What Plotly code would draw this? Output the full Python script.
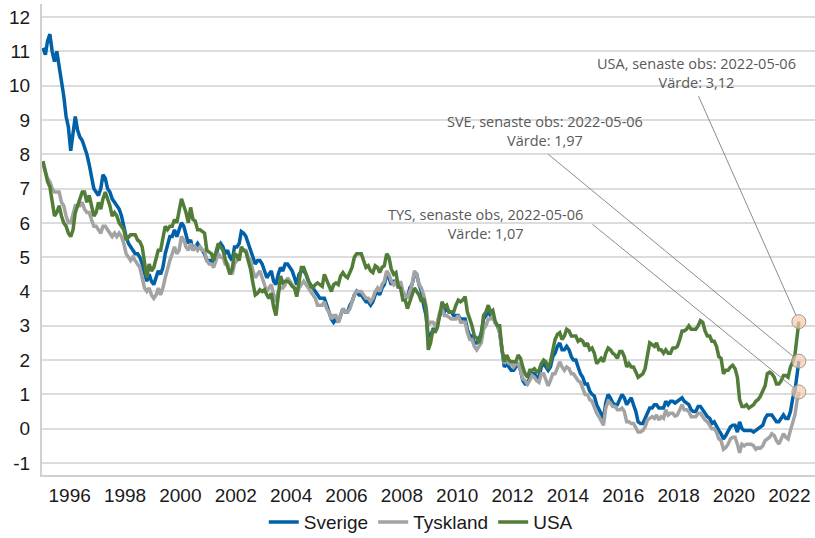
import pandas as pd
import plotly.graph_objects as go

# ---- data: 10-year government bond yields, monthly readings (mid-month) from Jan 1995 to Apr 2022,
# ---- followed by the latest observation
start_month = "1995-01-01"
last_obs = "2022-05-06"

sverige = [
    11.1, 10.9, 11.3, 11.5, 11.0, 10.7, 11.0, 10.6, 10.2, 9.7, 9.1, 8.8,
    8.1, 8.6, 9.1, 8.7, 8.5, 8.4, 8.2, 8.0, 7.7, 7.4, 7.0, 6.9,
    6.8, 7.0, 7.4, 7.3, 7.0, 6.9, 6.7, 6.6, 6.5, 6.4, 6.2, 5.9,
    5.6, 5.4, 5.3, 5.2, 5.1, 5.1, 5.0, 4.8, 4.5, 4.3, 4.5, 4.3,
    4.2, 4.4, 4.6, 4.5, 4.7, 5.1, 5.4, 5.6, 5.6, 5.8, 5.6, 5.8,
    6.0, 5.9, 5.6, 5.4, 5.5, 5.2, 5.3, 5.4, 5.3, 5.2, 5.1, 4.9,
    4.9, 4.9, 4.8, 5.1, 5.3, 5.4, 5.3, 5.1, 5.2, 5.0, 4.9, 5.3,
    5.3, 5.4, 5.75, 5.7, 5.6, 5.4, 5.2, 5.0, 4.8, 4.9, 4.9, 4.8,
    4.6, 4.4, 4.5, 4.6, 4.3, 4.2, 4.5, 4.7, 4.6, 4.8, 4.8, 4.7,
    4.6, 4.4, 4.2, 4.5, 4.6, 4.6, 4.5, 4.3, 4.2, 4.1, 4.0, 3.9,
    3.8, 3.8, 3.8, 3.6, 3.4, 3.2, 3.1, 3.2, 3.1, 3.3, 3.5, 3.4,
    3.4, 3.6, 3.7, 3.9, 4.0, 3.9, 3.9, 3.8, 3.7, 3.7, 3.6, 3.7,
    3.9, 4.0, 3.9, 4.1, 4.2, 4.5, 4.4, 4.2, 4.3, 4.3, 4.1, 4.2,
    3.9, 3.9, 3.8, 4.1, 4.2, 4.5, 4.5, 4.2, 4.0, 3.6, 3.3, 2.7,
    2.7, 2.9, 2.9, 3.1, 3.3, 3.5, 3.4, 3.5, 3.4, 3.4, 3.3, 3.3,
    3.3, 3.2, 3.2, 3.2, 2.9, 2.7, 2.7, 2.5, 2.5, 2.6, 2.8, 3.2,
    3.3, 3.4, 3.3, 3.3, 3.1, 3.0, 2.8, 2.3, 1.8, 1.9, 1.8, 1.7,
    1.7, 1.8, 1.9, 1.7, 1.4, 1.3, 1.3, 1.5, 1.6, 1.6, 1.5, 1.5,
    1.8, 1.9, 1.8, 1.7, 1.8, 2.1, 2.2, 2.4, 2.5, 2.3, 2.3, 2.4,
    2.3, 2.1, 2.0, 2.0, 1.8, 1.6, 1.5, 1.3, 1.3, 1.1, 1.0, 0.95,
    0.7, 0.55, 0.4, 0.3, 0.75, 1.0, 0.9, 0.75, 0.7, 0.7, 0.85, 1.0,
    0.9, 0.7, 0.8, 0.9, 0.7, 0.5, 0.2, 0.15, 0.15, 0.3, 0.5, 0.6,
    0.6, 0.7, 0.7, 0.6, 0.6, 0.6, 0.8, 0.7, 0.8, 0.8, 0.75, 0.8,
    0.85, 0.9, 0.8, 0.75, 0.7, 0.55, 0.5, 0.5, 0.65, 0.65, 0.55, 0.45,
    0.35, 0.3, 0.15, 0.2, 0.05, -0.05, -0.15, -0.3, -0.2, -0.05, 0.05, 0.1,
    0.1, -0.1, 0.2, 0.0, -0.05, -0.05, -0.05, -0.05, -0.1, -0.05, 0.0, 0.05,
    0.1, 0.3, 0.4, 0.4, 0.4, 0.3, 0.2, 0.2, 0.3, 0.4, 0.3, 0.3,
    0.5, 0.9, 1.1, 1.6, 1.97,
]

tyskland = [
    7.7, 7.5, 7.3, 7.2, 7.0, 6.9, 6.9, 6.9, 6.6, 6.5, 6.2, 6.0,
    6.0, 6.3, 6.5, 6.5, 6.5, 6.6, 6.4, 6.3, 6.3, 6.1, 5.9, 5.9,
    5.8, 5.7, 5.9, 5.9, 5.8, 5.7, 5.6, 5.7, 5.6, 5.7, 5.6, 5.4,
    5.1, 5.0, 4.9, 5.0, 4.9, 4.8, 4.7, 4.4, 4.1, 4.0, 4.1, 3.9,
    3.8, 3.9, 4.1, 3.9, 4.1, 4.4, 4.7, 4.9, 5.1, 5.3, 5.1, 5.2,
    5.6, 5.5, 5.3, 5.2, 5.4, 5.2, 5.3, 5.2, 5.3, 5.2, 5.2, 4.9,
    4.8, 4.8, 4.7, 4.9, 5.1, 5.0, 5.0, 4.8, 4.8, 4.6, 4.5, 4.8,
    4.9, 5.0, 5.2, 5.2, 5.2, 5.0, 4.9, 4.6, 4.4, 4.5, 4.6, 4.4,
    4.2, 4.0, 4.1, 4.2, 3.9, 3.7, 4.0, 4.1, 4.1, 4.2, 4.4, 4.3,
    4.2, 4.1, 3.9, 4.1, 4.2, 4.3, 4.2, 4.1, 4.0, 3.9, 3.8, 3.6,
    3.6, 3.6, 3.7, 3.5, 3.4, 3.2, 3.3, 3.3, 3.1, 3.3, 3.5, 3.4,
    3.4, 3.5, 3.7, 3.9, 4.0, 4.0, 4.0, 3.9, 3.8, 3.8, 3.7, 3.8,
    4.0, 4.1, 4.0, 4.2, 4.3, 4.6, 4.5, 4.3, 4.2, 4.3, 4.1, 4.3,
    4.0, 3.9, 3.8, 4.0, 4.2, 4.6, 4.5, 4.2, 4.1, 3.9, 3.6, 3.0,
    3.1, 3.1, 3.0, 3.1, 3.4, 3.5, 3.3, 3.3, 3.25, 3.2, 3.2, 3.2,
    3.3, 3.1, 3.1, 3.1, 2.8, 2.6, 2.6, 2.4, 2.3, 2.4, 2.5, 2.9,
    3.0, 3.2, 3.2, 3.3, 3.1, 3.0, 2.8, 2.3, 1.9, 2.0, 1.9, 1.9,
    1.8, 1.9, 1.9, 1.7, 1.45, 1.4, 1.3, 1.4, 1.55, 1.5, 1.4, 1.35,
    1.6, 1.6, 1.4, 1.25, 1.4, 1.6, 1.6, 1.8, 1.95, 1.8, 1.7, 1.8,
    1.75, 1.6, 1.6, 1.5, 1.4, 1.35, 1.2, 1.0, 1.0, 0.85, 0.8, 0.6,
    0.45, 0.35, 0.25, 0.1, 0.6, 0.8, 0.75, 0.65, 0.65, 0.55, 0.55, 0.6,
    0.5, 0.2, 0.2, 0.15, 0.15, 0.0, -0.1, -0.1, -0.05, 0.05, 0.25, 0.3,
    0.35, 0.3, 0.4, 0.25, 0.35, 0.3, 0.55, 0.4, 0.45, 0.45, 0.37, 0.4,
    0.55, 0.7, 0.55, 0.55, 0.5, 0.35, 0.35, 0.35, 0.45, 0.45, 0.35, 0.25,
    0.2, 0.1, 0.0, 0.0, -0.1, -0.3, -0.35, -0.6, -0.55, -0.45, -0.3, -0.25,
    -0.25, -0.45, -0.7, -0.45, -0.5, -0.45, -0.45, -0.45, -0.5, -0.6, -0.55, -0.57,
    -0.5, -0.35, -0.3, -0.25, -0.15, -0.2, -0.35, -0.45, -0.3, -0.15, -0.25, -0.3,
    -0.05, 0.2, 0.4, 0.85, 1.07,
]

usa = [
    7.8, 7.5, 7.2, 7.05, 6.6, 6.2, 6.3, 6.5, 6.2, 6.0, 5.9, 5.7,
    5.6, 5.8, 6.3, 6.5, 6.7, 6.9, 6.9, 6.6, 6.8, 6.5, 6.2, 6.3,
    6.6, 6.4, 6.7, 6.9, 6.7, 6.5, 6.2, 6.3, 6.2, 6.0, 5.9, 5.8,
    5.5, 5.6, 5.65, 5.65, 5.65, 5.5, 5.45, 5.3, 4.8, 4.4, 4.8, 4.6,
    4.7, 5.0, 5.2, 5.2, 5.5, 5.9, 5.8, 5.9, 5.9, 6.1, 6.0, 6.3,
    6.7, 6.5, 6.3, 6.0, 6.45, 6.1, 6.05, 5.8, 5.8, 5.75, 5.7, 5.2,
    5.15, 5.1, 4.9, 5.15, 5.4, 5.3, 5.2, 4.95, 4.7, 4.5, 4.65, 5.1,
    5.05, 4.9, 5.3, 5.2, 5.15, 4.9, 4.65, 4.25, 3.9, 3.95, 4.05, 4.0,
    4.05, 3.9, 3.8, 3.95, 3.55, 3.3, 3.95, 4.45, 4.25, 4.3, 4.3, 4.25,
    4.15, 4.1, 3.85, 4.35, 4.7, 4.7, 4.5, 4.3, 4.15, 4.1, 4.2, 4.25,
    4.2, 4.15, 4.5, 4.35, 4.15, 4.0, 4.2, 4.25, 4.2, 4.45, 4.55, 4.45,
    4.4, 4.55, 4.7, 5.0, 5.1, 5.1, 5.1, 4.9, 4.7, 4.75, 4.6, 4.55,
    4.75, 4.7, 4.55, 4.7, 4.75, 5.1, 5.0, 4.65, 4.5, 4.55, 4.15, 4.1,
    3.75, 3.75, 3.5, 3.7, 3.9, 4.1, 4.0, 3.9, 3.7, 3.8, 3.5, 2.3,
    2.5, 2.9, 2.8, 2.95, 3.3, 3.7, 3.55, 3.6, 3.4, 3.4, 3.4, 3.6,
    3.75, 3.7, 3.75, 3.85, 3.4, 3.2, 3.0, 2.7, 2.65, 2.5, 2.75, 3.3,
    3.4, 3.6, 3.4, 3.45, 3.15, 3.0, 3.0, 2.3, 1.95, 2.15, 2.0, 1.95,
    1.95, 1.95, 2.15, 2.05, 1.8, 1.6, 1.5, 1.7, 1.7, 1.75, 1.65, 1.7,
    1.9, 2.0, 1.95, 1.75, 1.95, 2.3, 2.6, 2.75, 2.8, 2.6, 2.7, 2.9,
    2.85, 2.7, 2.7, 2.7, 2.55, 2.6, 2.55, 2.4, 2.5, 2.3, 2.35, 2.2,
    1.9, 2.0, 2.05, 1.95, 2.2, 2.35, 2.3, 2.2, 2.15, 2.05, 2.25, 2.25,
    2.1, 1.8, 1.9, 1.8, 1.8, 1.65, 1.5, 1.55, 1.6, 1.75, 2.15, 2.5,
    2.45, 2.4, 2.5, 2.3, 2.3, 2.2, 2.3, 2.2, 2.2, 2.35, 2.35, 2.4,
    2.6, 2.85, 2.85, 2.9, 3.0, 2.9, 2.9, 2.9, 3.0, 3.15, 3.1, 2.85,
    2.7, 2.7, 2.55, 2.55, 2.4, 2.1, 2.05, 1.6, 1.7, 1.7, 1.8, 1.85,
    1.75, 1.5, 0.85, 0.65, 0.65, 0.7, 0.6, 0.65, 0.7, 0.8, 0.85, 0.95,
    1.1, 1.25, 1.6, 1.65, 1.6, 1.5, 1.3, 1.3, 1.4, 1.55, 1.55, 1.5,
    1.8, 1.95, 2.15, 2.8, 3.12,
]

series_names = ["Sverige", "Tyskland", "USA"]
series_colors = ["#0061A8", "#A3A3A3", "#517D38"]
label_prefix = ["SVE, senaste obs: ", "TYS, senaste obs, ", "USA, senaste obs: "]

y_ticks = list(range(-1, 13))

# ---- dates
n_monthly = len(sverige) - 1
dates = list(pd.date_range(start_month, periods=n_monthly, freq="MS") + pd.Timedelta(days=14))
dates.append(pd.Timestamp(last_obs))

fig = go.Figure()
for name, vals, col in zip(series_names, [sverige, tyskland, usa], series_colors):
    fig.add_trace(go.Scatter(
        x=dates, y=vals, mode="lines", name=name,
        line=dict(color=col, width=3.5),
    ))

last_vals = [sverige[-1], tyskland[-1], usa[-1]]
fig.add_trace(go.Scatter(
    x=[pd.Timestamp(last_obs)] * 3, y=last_vals, mode="markers", showlegend=False,
    marker=dict(size=14, color="rgba(248,203,173,0.7)", line=dict(color="#9A9A9A", width=1)),
    hoverinfo="skip",
))

# label placement (pixel offsets from the marked point): text centre and leader start
text_shift = {"Sverige": (-254, 230), "Tyskland": (-313, 168), "USA": (-102, 249)}
leader_tail = {"Sverige": (-252, -208), "Tyskland": (-208, -169), "USA": (-101, -227)}

for name, prefix, val in zip(series_names, label_prefix, last_vals):
    txt = f"{prefix}{last_obs}<br>Värde: {val:.2f}".replace(".", ",")
    xs, ys = text_shift[name]
    fig.add_annotation(
        x=pd.Timestamp(last_obs), y=val, text=txt, showarrow=False,
        xshift=xs, yshift=ys, xanchor="center", yanchor="middle", align="center",
        font=dict(family="Open Sans", size=14.5, color="#595959"),
    )
    ax, ay = leader_tail[name]
    fig.add_annotation(
        x=pd.Timestamp(last_obs), y=val, text="", showarrow=True,
        ax=ax, ay=ay, arrowhead=0, arrowwidth=1, arrowcolor="#8C8C8C",
        standoff=7, startstandoff=0,
    )

fig.update_layout(
    template="none",
    width=815, height=538,
    margin=dict(l=42, r=0, t=4, b=63, autoexpand=False),
    paper_bgcolor="white", plot_bgcolor="white",
    font=dict(family="Liberation Sans, Arial, sans-serif", size=19, color="#1A1A1A"),
    showlegend=True,
    legend=dict(
        orientation="h", x=0.49, xanchor="center", y=-0.1, yanchor="middle",
        font=dict(family="Liberation Sans, Arial, sans-serif", size=19, color="#1A1A1A"),
        itemwidth=30, tracegroupgap=0, bgcolor="rgba(0,0,0,0)",
    ),
    xaxis=dict(
        type="date", range=["1995-01-01", "2022-12-05"],
        tick0="1996-01-01", dtick="M24", tickformat="%Y",
        showgrid=False, zeroline=False, showline=True, linecolor="#D0D0D0", linewidth=2,
        ticks="", automargin=False, ticklabelstandoff=2,
    ),
    yaxis=dict(
        range=[-1.35, 12.38], tickmode="array", tickvals=y_ticks,
        ticktext=[str(v) for v in y_ticks],
        showgrid=True, gridcolor="#DCDCDC", gridwidth=1.5, zeroline=False,
        showline=True, linecolor="#D0D0D0", linewidth=2, ticks="", automargin=False,
        ticklabelstandoff=6,
    ),
)

fig.write_html(
    "out.html",
    config={"displayModeBar": False},
    post_script="document.body.style.margin='0px';document.body.style.overflow='hidden';",
)
